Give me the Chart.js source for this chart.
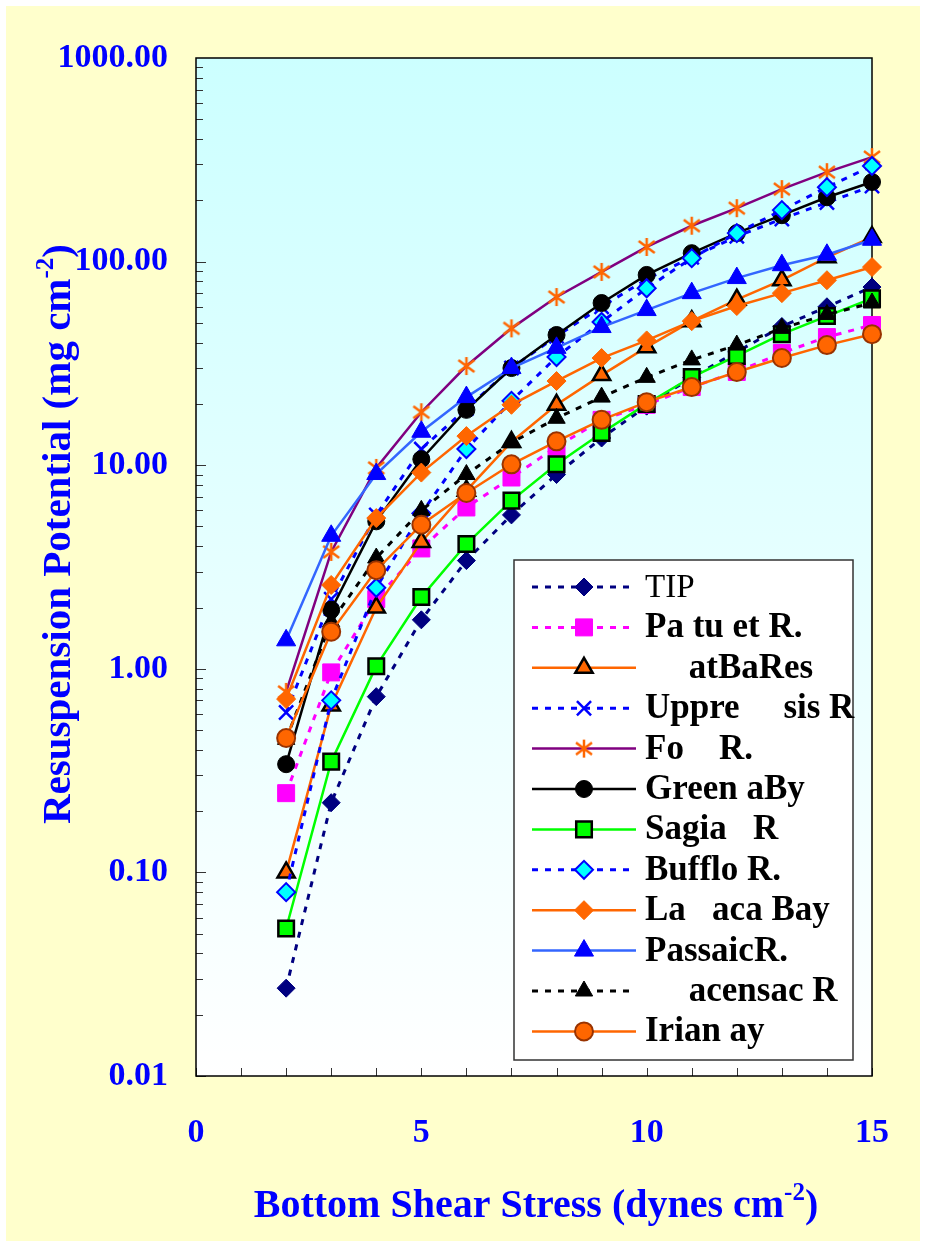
<!DOCTYPE html>
<html>
<head>
<meta charset="utf-8">
<script src="https://cdn.jsdelivr.net/npm/chart.js@4.4.0/dist/chart.umd.min.js"></script>
<style>
  html, body { margin: 0; padding: 0; background: #ffffff; }
  canvas { display: block; }
</style>
</head>
<body>
<canvas id="chart" width="926" height="1247"></canvas>
<script>
// bottom shear stress (dynes cm-2)
const shearStress = [2, 3, 4, 5, 6, 7, 8, 9, 10, 11, 12, 13, 14, 15]

// resuspension potential (mg cm-2), one array per site
const tip = [0.027, 0.22, 0.73, 1.74, 3.4, 5.7, 9.0, 13.6, 19.5, 27, 36, 48, 60, 75]
const pawtuxet = [0.245, 0.96, 2.2, 3.9, 6.2, 8.7, 12.3, 16.7, 19.8, 24.2, 28.7, 35.6, 42.6, 48.8]
const wattsBar = [0.10, 0.66, 2.0, 4.2, 7.5, 13, 19.8, 27.7, 38, 51, 65, 81, 105, 132]
const upperMiss = [0.61, 2.2, 5.7, 12, 19, 30, 43, 60, 82, 105, 133, 162, 195, 235]
const fox = [0.77, 3.75, 9.7, 18.2, 30.7, 47, 67, 89, 118, 150, 183, 227, 275, 326]
const greenBay = [0.34, 1.95, 5.3, 10.7, 18.7, 30, 43.6, 62.6, 86, 110, 138, 169, 207, 246]
const saginaw = [0.053, 0.35, 1.03, 2.25, 4.1, 6.7, 10.1, 14.4, 20, 27.1, 34.4, 44, 54, 66]
const buffalo = [0.080, 0.70, 2.5, 5.8, 12, 20.7, 34, 50.5, 74, 104, 138, 179, 232, 295]
const lavaca = [0.71, 2.58, 5.5, 9.2, 13.9, 19.8, 25.9, 33.6, 41, 51, 60.5, 70, 81, 94]
const passaic = [1.38, 4.5, 9.05, 14.6, 21.6, 30, 37.7, 47.7, 57.8, 70, 83, 96, 108, 128]
const hackensack = [0.45, 1.7, 3.5, 6.0, 9.0, 12.9, 17.0, 21.6, 27, 32.9, 38.9, 47, 55, 62.6]
const irian = [0.457, 1.52, 3.05, 5.1, 7.3, 10.1, 13.1, 16.7, 20.4, 24.2, 28.7, 33.6, 38.9, 44]

// legend labels as printed
const labels = [
  'TIP', 'Pa tu et R.', '     atBaRes', 'Uppre     sis R', 'Fo    R.', 'Green aBy',
  'Sagia   R', 'Bufflo R.', 'La   aca Bay', 'PassaicR.', '     acensac R', 'Irian ay'
]

const yTicks = [0.01, 0.1, 1, 10, 100, 1000]

const blue = '#0000ff'
const serif = "'Liberation Serif', 'Times New Roman', serif"

function makeStar() {
  const c = document.createElement('canvas')
  c.width = 20
  c.height = 20
  const g = c.getContext('2d')
  g.strokeStyle = '#ff6600'
  g.lineWidth = 2.5
  g.beginPath()
  g.moveTo(10, 1); g.lineTo(10, 19)
  g.moveTo(2, 4); g.lineTo(18, 16)
  g.moveTo(18, 4); g.lineTo(2, 16)
  g.stroke()
  return c
}

function series(label, data, line, dash, style, radius, fill, border, borderWidth) {
  return {
    label,
    data: data.map((v, i) => ({ x: shearStress[i], y: v })),
    borderColor: line,
    borderWidth: dash ? 3 : 2.5,
    borderDash: dash ? [6, 7] : [],
    pointStyle: style,
    pointRadius: radius,
    pointBackgroundColor: fill,
    pointBorderColor: border,
    pointBorderWidth: borderWidth,
    tension: 0,
    clip: false,
  }
}

const datasets = [
  series(labels[0], tip, '#000080', true, 'rectRot', 9, '#000080', '#000080', 1),
  series(labels[1], pawtuxet, '#ff00ff', true, 'rect', 12, '#ff00ff', '#ff00ff', 1),
  series(labels[2], wattsBar, '#ff6600', false, 'triangle', 10, '#ff6600', '#000000', 2.5),
  series(labels[3], upperMiss, '#0000ff', true, 'crossRot', 10, '#0000ff', '#0000ff', 2.5),
  series(labels[4], fox, '#800080', false, makeStar(), 9, '#ff6600', '#ff6600', 0),
  series(labels[5], greenBay, '#000000', false, 'circle', 8.5, '#000000', '#000000', 1),
  series(labels[6], saginaw, '#00ff00', false, 'rect', 11, '#00ff00', '#000000', 2.5),
  series(labels[7], buffalo, '#0000ff', true, 'rectRot', 9, '#00ffff', '#0000ff', 2),
  series(labels[8], lavaca, '#ff6600', false, 'rectRot', 9.5, '#ff6600', '#ff6600', 1),
  series(labels[9], passaic, '#3366ff', false, 'triangle', 11, '#0000ff', '#0000ff', 1),
  series(labels[10], hackensack, '#000000', true, 'triangle', 10, '#000000', '#000000', 1),
  series(labels[11], irian, '#ff6600', false, 'circle', 9, '#ff6600', '#993300', 2),
]
// later series sit on top, like the original
datasets.forEach((d, i) => { d.order = datasets.length - i })

function drawMarker(ctx, ds, x, y) {
  const r = ds.pointRadius
  const s = ds.pointStyle
  ctx.save()
  ctx.setLineDash([])
  if (s instanceof HTMLCanvasElement) {
    ctx.drawImage(s, x - s.width / 2, y - s.height / 2)
    ctx.restore()
    return
  }
  ctx.fillStyle = ds.pointBackgroundColor
  ctx.strokeStyle = ds.pointBorderColor
  ctx.lineWidth = ds.pointBorderWidth
  ctx.beginPath()
  if (s === 'circle') {
    ctx.arc(x, y, r, 0, Math.PI * 2)
  } else if (s === 'rect') {
    const h = r * Math.SQRT1_2
    ctx.rect(x - h, y - h, 2 * h, 2 * h)
  } else if (s === 'rectRot') {
    ctx.moveTo(x - r, y); ctx.lineTo(x, y - r); ctx.lineTo(x + r, y); ctx.lineTo(x, y + r)
    ctx.closePath()
  } else if (s === 'triangle') {
    ctx.moveTo(x, y - r); ctx.lineTo(x + r * 0.866, y + r / 2); ctx.lineTo(x - r * 0.866, y + r / 2)
    ctx.closePath()
  } else if (s === 'crossRot') {
    const h = r * Math.SQRT1_2
    ctx.moveTo(x - h, y - h); ctx.lineTo(x + h, y + h)
    ctx.moveTo(x + h, y - h); ctx.lineTo(x - h, y + h)
  }
  if (s !== 'crossRot') ctx.fill()
  if (ds.pointBorderWidth > 0) ctx.stroke()
  ctx.restore()
}

// text with a raised part, parts = [[text, isSup], ...], centred on x
function drawSup(ctx, parts, x, y, size) {
  const full = `bold ${size}px ${serif}`
  const small = `bold ${Math.round(size * 0.62)}px ${serif}`
  let w = 0
  parts.forEach(([t, sup]) => {
    ctx.font = sup ? small : full
    w += ctx.measureText(t).width
  })
  let cx = x - w / 2
  ctx.textAlign = 'left'
  ctx.textBaseline = 'alphabetic'
  parts.forEach(([t, sup]) => {
    ctx.font = sup ? small : full
    ctx.fillText(t, cx, sup ? y - size * 0.42 : y)
    cx += ctx.measureText(t).width
  })
}

const frame = {
  id: 'frame',
  beforeDraw(chart) {
    const { ctx, chartArea: a } = chart
    ctx.save()
    ctx.fillStyle = '#ffffff'
    ctx.fillRect(0, 0, chart.width, chart.height)
    ctx.fillStyle = '#ffffcc'
    ctx.fillRect(6, 6, chart.width - 12, chart.height - 12)
    const g = ctx.createLinearGradient(0, a.top, 0, a.bottom)
    g.addColorStop(0, '#ccffff')
    g.addColorStop(1, '#ffffff')
    ctx.fillStyle = g
    ctx.fillRect(a.left, a.top, a.right - a.left, a.bottom - a.top)
    ctx.restore()
  },
  beforeDatasetsDraw(chart) {
    const { ctx, chartArea: a, scales } = chart
    ctx.save()
    ctx.strokeStyle = '#333333'
    ctx.lineWidth = 1
    for (let d = -2; d < 3; d++) {
      for (let m = 1; m <= 9; m++) {
        const y = Math.round(scales.y.getPixelForValue(m * Math.pow(10, d))) + 0.5
        const len = m === 1 ? 10 : 7
        ctx.beginPath()
        ctx.moveTo(a.left, y)
        ctx.lineTo(a.left + len, y)
        ctx.stroke()
      }
    }
    for (let v = 0; v <= 15; v++) {
      const x = Math.round(scales.x.getPixelForValue(v)) + 0.5
      ctx.beginPath()
      ctx.moveTo(x, a.bottom)
      ctx.lineTo(x, a.bottom - 8)
      ctx.stroke()
    }
    ctx.strokeStyle = '#000000'
    ctx.lineWidth = 1.5
    ctx.strokeRect(a.left, a.top, a.right - a.left, a.bottom - a.top)
    ctx.restore()
  },
  afterDraw(chart) {
    const { ctx } = chart
    ctx.save()
    ctx.fillStyle = blue
    drawSup(ctx, [['Bottom Shear Stress (dynes cm', false], ['-2', true], [')', false]], 536, 1217, 40)
    ctx.translate(70, 534)
    ctx.rotate(-Math.PI / 2)
    drawSup(ctx, [['Resuspension Potential (mg cm', false], ['-2', true], [')', false]], 0, 0, 41)
    ctx.restore()

    // legend box
    ctx.save()
    ctx.fillStyle = '#ffffff'
    ctx.fillRect(514, 560, 339, 500)
    ctx.strokeStyle = '#333333'
    ctx.lineWidth = 1.5
    ctx.strokeRect(514, 560, 339, 500)
    chart.data.datasets.forEach((ds, i) => {
      const y = 587 + i * 40.4
      ctx.save()
      ctx.strokeStyle = ds.borderColor
      ctx.lineWidth = ds.borderWidth
      ctx.setLineDash(ds.borderDash)
      ctx.beginPath()
      ctx.moveTo(532, y)
      ctx.lineTo(636, y)
      ctx.stroke()
      ctx.restore()
      drawMarker(ctx, ds, 584, y)
      ctx.fillStyle = '#000000'
      ctx.font = i === 0 ? `normal 33px ${serif}` : `bold 35px ${serif}`
      ctx.textAlign = 'left'
      ctx.textBaseline = 'middle'
      ctx.fillText(ds.label, 645, y + 1)
    })
    ctx.restore()
  },
}

new Chart(document.getElementById('chart'), {
  type: 'line',
  data: { datasets },
  options: {
    responsive: false,
    animation: false,
    events: [],
    layout: { padding: { top: 58, right: 49, bottom: 0, left: 0 } },
    plugins: {
      legend: { display: false },
      tooltip: { enabled: false },
    },
    scales: {
      x: {
        type: 'linear',
        min: 0,
        max: 15,
        grid: { display: false, drawTicks: false },
        border: { display: false },
        ticks: {
          stepSize: 5,
          padding: 37,
          color: blue,
          font: { family: serif, size: 34, weight: 'bold' },
        },
        afterFit(scale) { scale.height = 171 },
      },
      y: {
        type: 'logarithmic',
        min: 0.01,
        max: 1000,
        grid: { display: false, drawTicks: false },
        border: { display: false },
        afterBuildTicks(scale) { scale.ticks = yTicks.map((v) => ({ value: v })) },
        ticks: {
          padding: 28,
          color: blue,
          font: { family: serif, size: 34, weight: 'bold' },
          callback: (v) => Number(v).toFixed(2),
        },
        afterFit(scale) { scale.width = 196 },
      },
    },
  },
  plugins: [frame],
})
</script>
</body>
</html>
